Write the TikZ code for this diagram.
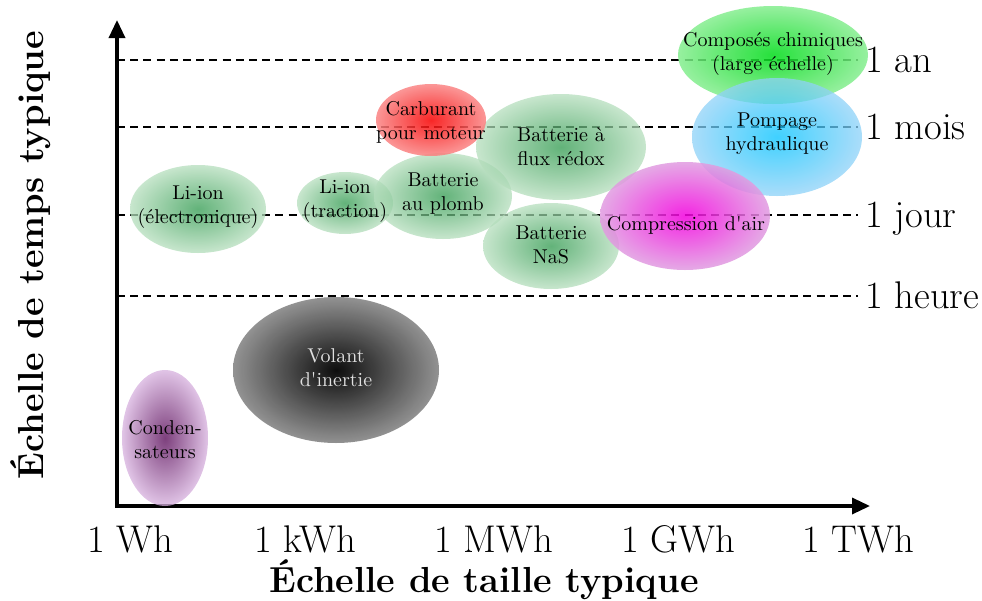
\documentclass[tikz,border=0pt]{standalone}
\usetikzlibrary{arrows.meta}
\definecolor{batin}{rgb}{0.18,0.6,0.3}
\definecolor{batout}{rgb}{0.71,0.87,0.74}
\definecolor{magin}{rgb}{0.95,0.0,0.87}
\definecolor{magout}{rgb}{0.88,0.61,0.88}
\definecolor{cyin}{rgb}{0.0,0.76,1.0}
\definecolor{cyout}{rgb}{0.56,0.82,0.97}
\definecolor{grin}{rgb}{0.0,0.86,0.1}
\definecolor{grout}{rgb}{0.52,0.93,0.56}
\definecolor{redin}{rgb}{0.97,0.0,0.0}
\definecolor{redout}{rgb}{0.98,0.52,0.52}
\definecolor{blkin}{rgb}{0,0,0}
\definecolor{blkout}{rgb}{0.55,0.55,0.55}
\definecolor{purin}{rgb}{0.32,0.0,0.32}
\definecolor{purout}{rgb}{0.84,0.69,0.87}
\tikzset{
  axisline/.style={line width=1.7pt,{Triangle[length=9pt,width=8pt]}-{Triangle[length=9pt,width=8pt]}},
  gridline/.style={line width=1.1pt,dash pattern=on 4pt off 2.6pt},
  grp/.style={transparency group,opacity=0.75},
  lbl/.style={align=center,font=\normalsize,inner sep=0pt},
  tick/.style={anchor=base,font=\fontsize{19.3}{23}\selectfont,inner sep=0pt},
  rlab/.style={anchor=base west,font=\fontsize{19.3}{23}\selectfont,inner sep=0pt},
  axtitle/.style={anchor=base,font=\fontsize{18.1}{22}\selectfont\bfseries,inner sep=0pt},
}
\newcommand{\blob}[5]{\begin{scope}[grp,#5]\shade[inner color=#3,outer color=#4] #1 ellipse [#2];\end{scope}}
\begin{document}
\begin{tikzpicture}[x=0.5pt,y=-0.5pt]
\useasboundingbox (0,0) rectangle (982,601);
% axes
\coordinate (O) at (117,506);
\coordinate (ytip) at (117,20);
\coordinate (xtip) at (870,506);
\draw[axisline,line join=miter] (ytip) -- (O) -- (xtip);
% dashed levels
\foreach \yy/\nm/\txt in {60/an/1 an,127/mois/1 mois,215/jour/1 jour,296/heure/1 heure}{
  \coordinate (l\nm) at (117,\yy);
  \coordinate (r\nm) at (858,\yy);
  \draw[gridline] (l\nm) -- (r\nm);
  \node[rlab] (t\nm) at (865,\yy+12) {\txt};
}
% ellipses
\blob{(165,438)}{x radius=43,y radius=68}{purin}{purout}{}
\blob{(336,370)}{x radius=103,y radius=73}{blkin}{blkout}{opacity=0.95}
\blob{(198,209)}{x radius=68,y radius=44}{batin}{batout}{}
\blob{(345,203)}{x radius=48,y radius=31}{batin}{batout}{}
\blob{(443,196)}{x radius=69,y radius=43}{batin}{batout}{}
\blob{(561,147)}{x radius=85,y radius=53}{batin}{batout}{}
\blob{(431,120)}{x radius=55,y radius=36}{redin}{redout}{opacity=0.85}
\blob{(551,246)}{x radius=68,y radius=43}{batin}{batout}{}
\blob{(773,55)}{x radius=95,y radius=49}{grin}{grout}{opacity=0.85}
\blob{(777,137)}{x radius=85,y radius=59}{cyin}{cyout}{}
\blob{(685,216)}{x radius=85,y radius=54}{magin}{magout}{opacity=0.85}
% labels
\node[lbl] (cond) at (165,440) {Conden-\\sateurs};
\node[lbl,text=black!12] (vol) at (336,368) {Volant\\d\textquotesingle inertie};
\node[lbl] (lie) at (198,207) {Li-ion\\(électronique)};
\node[lbl] (lit) at (345,201) {Li-ion\\(traction)};
\node[lbl] (plomb) at (443,194) {Batterie\\au plomb};
\node[lbl] (carb) at (431,122) {Carburant\\pour moteur};
\node[lbl] (flux) at (561,147) {Batterie à\\flux rédox};
\node[lbl] (nas) at (551,245) {Batterie\\NaS};
\node[lbl] (comp) at (686,225) {Compression d\textquotesingle air};
\node[lbl] (pomp) at (777,134) {Pompage\\hydraulique};
\node[lbl] (chim) at (773,54) {Composés chimiques\\(large échelle)};
% ticks
\node[tick] (wh) at (130,552) {1 Wh};
\node[tick] (kwh) at (305,552) {1 kWh};
\node[tick] (mwh) at (494,552) {1 MWh};
\node[tick] (gwh) at (678,552) {1 GWh};
\node[tick] (twh) at (858,552) {1 TWh};
% axis titles
\node[axtitle] (xlab) at (484,592) {Échelle de taille typique};
\node[axtitle,rotate=90] (ylab) at (44,255) {Échelle de temps typique};
\end{tikzpicture}
\end{document}
